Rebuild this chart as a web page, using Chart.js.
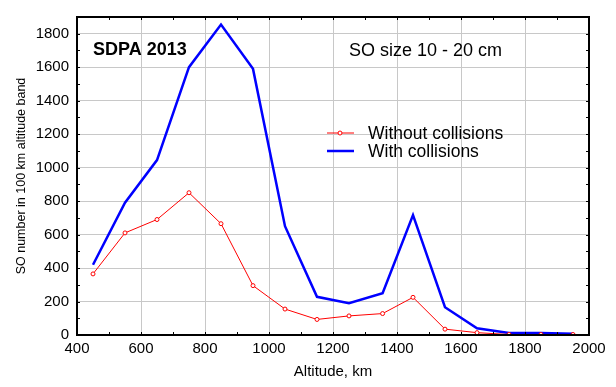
<!DOCTYPE html>
<html>
<head>
<meta charset="utf-8">
<script src="https://cdn.jsdelivr.net/npm/chart.js@4/dist/chart.umd.min.js"></script>
<style>
  html, body { margin: 0; padding: 0; background: #fff; }
  #wrap { width: 616px; height: 387px; }
</style>
</head>
<body>
<div id="wrap"><canvas id="soChart" width="616" height="387"></canvas></div>
<script>
// altitude band centres, km
var altitudes = [450, 550, 650, 750, 850, 950, 1050, 1150, 1250, 1355, 1450, 1550, 1650, 1750, 1850, 1950];
// SO counts per 100 km band
var withoutCollisions = [365, 610, 690, 850, 665, 295, 155, 93, 114, 128, 225, 35, 14, 3, 3, 3];
var withCollisions = [420, 790, 1045, 1600, 1855, 1590, 650, 228, 190, 250, 717, 166, 40, 12, 12, 8];

var seriesLabels = ['Without collisions', 'With collisions'];
var chartTitle = 'SDPA 2013';
var sizeNote = 'SO size 10 - 20 cm';

var FONT = '"Liberation Sans", Arial, sans-serif';

function toPoints(values) {
    return altitudes.map((a, i) => ({ x: a, y: values[i] }));
}

// only every second 100-step gets a grid line and a label
function isMajor(c) {
    return c.tick && c.tick.value % 200 === 0;
}

// frame, inward tick marks, text notes and the little legend
const decorPlugin = {
    id: 'decor',
    afterDraw(chart) {
        const ctx = chart.ctx;
        const area = chart.chartArea;
        const xs = chart.scales.x;
        const ys = chart.scales.y;
        ctx.save();

        // inward ticks every 100 on all four sides
        ctx.strokeStyle = '#000';
        ctx.lineWidth = 1;
        ctx.beginPath();
        for (let v = 500; v < 2000; v += 100) {
            const px = Math.round(xs.getPixelForValue(v)) + 0.5;
            ctx.moveTo(px, area.bottom); ctx.lineTo(px, area.bottom - 3);
            ctx.moveTo(px, area.top); ctx.lineTo(px, area.top + 3);
        }
        for (let v = 100; v < 1900; v += 100) {
            const py = Math.round(ys.getPixelForValue(v)) + 0.5;
            ctx.moveTo(area.left, py); ctx.lineTo(area.left + 3, py);
            ctx.moveTo(area.right, py); ctx.lineTo(area.right - 3, py);
        }
        ctx.stroke();

        // frame
        ctx.lineWidth = 2;
        ctx.strokeStyle = '#000';
        ctx.strokeRect(area.left, area.top, area.right - area.left, area.bottom - area.top);

        // notes
        ctx.fillStyle = '#000';
        ctx.textBaseline = 'middle';
        ctx.textAlign = 'left';
        ctx.font = 'bold 18px ' + FONT;
        ctx.fillText(chartTitle, 93, 50);
        ctx.font = '18px ' + FONT;
        ctx.fillText(sizeNote, 349, 51);

        // legend
        const ds = chart.data.datasets;
        const rows = [133, 151];
        ds.forEach((d, i) => {
            ctx.strokeStyle = d.borderColor;
            ctx.lineWidth = i === 0 ? 1 : 2.5;
            ctx.beginPath();
            ctx.moveTo(327, rows[i]);
            ctx.lineTo(354, rows[i]);
            ctx.stroke();
            if (i === 0) {
                ctx.beginPath();
                ctx.fillStyle = '#fff';
                ctx.arc(340, rows[i], 2, 0, Math.PI * 2);
                ctx.fill();
                ctx.stroke();
            }
            ctx.fillStyle = '#000';
            ctx.font = '17.5px ' + FONT;
            ctx.fillText(d.label, 368, rows[i] + 1);
        });
        ctx.restore();
    }
};

const ctx = document.getElementById('soChart').getContext('2d');
new Chart(ctx, {
    type: 'line',
    data: {
        datasets: [{
            label: seriesLabels[0],
            data: toPoints(withoutCollisions),
            borderColor: 'rgb(255, 0, 0)',
            backgroundColor: '#fff',
            borderWidth: 1,
            pointRadius: 2,
            pointBorderWidth: 1,
            pointBackgroundColor: '#fff',
            tension: 0
        }, {
            label: seriesLabels[1],
            data: toPoints(withCollisions),
            borderColor: 'rgb(0, 0, 255)',
            borderWidth: 2.5,
            pointRadius: 0,
            tension: 0
        }]
    },
    options: {
        responsive: false,
        animation: false,
        devicePixelRatio: 1,
        layout: { padding: { top: 14, right: 27, left: 0, bottom: 0 } },
        plugins: {
            legend: { display: false },
            tooltip: { enabled: false }
        },
        scales: {
            x: {
                type: 'linear',
                min: 400,
                max: 2000,
                border: { display: false },
                grid: {
                    color: c => isMajor(c) ? '#c8c8c8' : 'transparent',
                    drawTicks: false,
                    lineWidth: 1
                },
                ticks: {
                    stepSize: 100,
                    autoSkip: false,
                    padding: 5,
                    color: '#000',
                    font: { family: FONT, size: 15 },
                    maxRotation: 0,
                    callback: v => (v % 200 === 0) ? String(v) : ''
                },
                title: {
                    display: true,
                    text: 'Altitude, km',
                    color: '#000',
                    font: { family: FONT, size: 15 },
                    padding: { top: 6, bottom: 6 }
                },
                afterFit: s => { s.height = 52; }
            },
            y: {
                min: 0,
                max: 1900,
                border: { display: false },
                grid: {
                    color: c => isMajor(c) ? '#c8c8c8' : 'transparent',
                    drawTicks: false,
                    lineWidth: 1
                },
                ticks: {
                    stepSize: 100,
                    autoSkip: false,
                    padding: 8,
                    color: '#000',
                    font: { family: FONT, size: 15 },
                    callback: v => (v % 200 === 0) ? String(v) : ''
                },
                title: {
                    display: true,
                    text: 'SO number in 100 km altitude band',
                    color: '#000',
                    font: { family: FONT, size: 12.5 },
                    padding: { top: 14, bottom: 2 }
                },
                afterFit: s => { s.width = 77; }
            }
        }
    },
    plugins: [decorPlugin]
});
</script>
</body>
</html>
